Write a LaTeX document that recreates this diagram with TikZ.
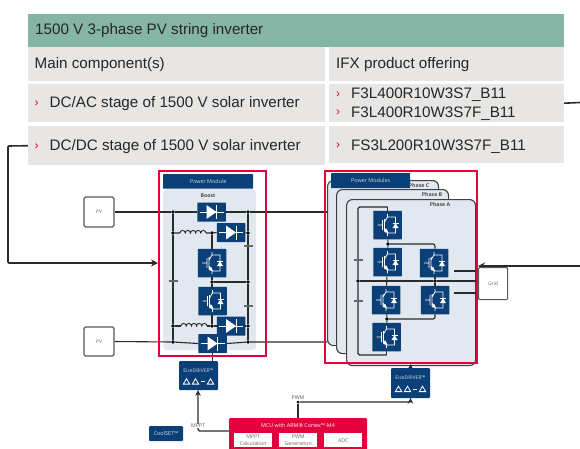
\documentclass[tikz,border=0pt]{standalone}
\usepackage{fontspec}
\setmainfont{Liberation Sans}
\newfontfamily\dfont{Open Sans}
\usetikzlibrary{arrows.meta}
\pgfdeclarelayer{panels}\pgfdeclarelayer{wires}
\pgfsetlayers{panels,wires,main}
\definecolor{hdrgreen}{HTML}{85B5A5}
\definecolor{cellgrey}{HTML}{E8E6E4}
\definecolor{ifxred}{HTML}{E4003C}
\definecolor{ifxblue}{HTML}{0B3F77}
\definecolor{panelblue}{HTML}{E1E8F0}
\definecolor{wirecol}{HTML}{2B2B2B}
\definecolor{pvgrey}{HTML}{6E6E6E}
\tikzset{
 cell/.style={fill=cellgrey,draw=none,inner sep=0pt},
 cellhdr/.style={fill=hdrgreen,draw=none,inner sep=0pt},
 ttext/.style={font=\fontsize{15.2}{18}\selectfont,text=black!85,anchor=west,inner sep=0pt},
 bullet/.style={font=\fontsize{12}{14}\selectfont,text=ifxred,anchor=west,inner sep=0pt},
 sw/.style={fill=ifxblue,draw=none,minimum width=28.5pt,minimum height=28.5pt,inner sep=0pt,rounded corners=.5pt},
 dio/.style={fill=ifxblue,draw=none,minimum width=28.5pt,minimum height=19pt,inner sep=0pt,rounded corners=.5pt},
 wire/.style={draw=wirecol,line width=1.1pt},
 heavy/.style={draw=wirecol,line width=1.6pt},
 joint/.style={circle,fill=black,inner sep=0pt,minimum size=3.6pt},
 redbox/.style={draw=ifxred,line width=2pt},
 panel/.style={fill=panelblue,draw=none,rounded corners=4pt},
 phasep/.style={fill=panelblue,draw=black!75,line width=1.1pt,rounded corners=6pt},
 hdrbox/.style={fill=ifxblue,text=white!80!ifxblue,font=\dfont\fontsize{5.4}{6}\selectfont,inner sep=0pt,rounded corners=.5pt},
 srcbox/.style={fill=white,draw=black!65,line width=1.1pt,rounded corners=1.5pt,font=\dfont\fontsize{5}{6}\selectfont,text=pvgrey,inner sep=0pt},
 lab/.style={font=\dfont\bfseries\fontsize{5.2}{6}\selectfont,text=black!70,inner sep=0pt},
 sig/.style={font=\dfont\fontsize{5.2}{6}\selectfont,text=black!65,inner sep=0pt},
 sub/.style={fill=white,draw=none,font=\dfont\fontsize{5.2}{7.4}\selectfont,text=black!60,align=center,inner sep=0pt},
 pics/igbtg/.style={code={
  \draw[white,line width=.8pt] (-10,0)--(-5,0) (-5,-5)--(-5,5) (-3,-6)--(-3,6)
    (0,-11)--(0,-8)--(-3,-3) (-3,3)--(0,8)--(0,11) (0,-8)--(8,-8)--(8,8)--(0,8);
  \fill[white] (5,3)--(11,3)--(8,-2)--cycle;
  \draw[white,line width=.8pt] (5,-2)--(11,-2);
  \fill[white] (1,8)--(-3.5,7)--(-1,3.5)--cycle;
 }},
 pics/diodeg/.style={code={
  \draw[white,line width=.8pt] (-12,0)--(12,0) (5,-7)--(5,7);
  \fill[white] (-5,-7)--(-5,7)--(5,0)--cycle;
 }},
 pics/coilg/.style={code={
  \draw[wirecol,line width=.9pt] (0,0) arc (180:360:2.6) arc (180:360:2.6) arc (180:360:2.6) arc (180:360:2.6) arc (180:360:2.6);
 }},
 pics/capg/.style={code={
  \draw[black!60,line width=1pt] (-4.5,-.9)--(4.5,-.9) (-4.5,.9)--(4.5,.9);
 }},
 pics/trig/.style={code={
  \draw[white,line width=.8pt,line join=miter] (-3.2,2.6)--(3.2,2.6)--(0,-2.8)--cycle;
 }},
 pics/drvg/.style={code={
  \node[font=\dfont\fontsize{5}{6}\selectfont,text=white!80!ifxblue,inner sep=0pt] at (0,-5) {EiceDRIVER™};
  \pic at (-12,6) {trig}; \pic at (-3,6) {trig}; \pic at (12,6) {trig};
  \draw[white,line width=.6pt] (2.5,6)--(6,6);
 }}
}
\begin{document}
\begin{tikzpicture}[x=1pt,y=-1pt]
\useasboundingbox (0,0) rectangle (580,448);
\clip (0,0) rectangle (580,448);
% table
\node[cellhdr,minimum width=535.5pt,minimum height=33pt,anchor=north west] (title) at (28,13.5) {};
\node[ttext] at (35,31) {1500 V 3-phase PV string inverter};
\node[cell,minimum width=297pt,minimum height=34pt,anchor=north west] (hl) at (28,47) {};
\node[cell,minimum width=234.5pt,minimum height=34pt,anchor=north west] (hr) at (329,47) {};
\node[ttext] at (34.5,65) {Main component(s)};
\node[ttext] at (336,65) {IFX product offering};
\node[cell,minimum width=297pt,minimum height=38pt,anchor=north west] (acl) at (28,84) {};
\node[cell,minimum width=234.5pt,minimum height=38pt,anchor=north west] (acr) at (329,84) {};
\node[cell,minimum width=297pt,minimum height=39pt,anchor=north west] (dcl) at (28,126) {};
\node[cell,minimum width=234.5pt,minimum height=37pt,anchor=north west] (dcr) at (329,126) {};
\node[bullet] at (34.5,103.5) {›};
\node[ttext] at (49.5,104) {DC/AC stage of 1500 V solar inverter};
\node[bullet] at (34.5,146.5) {›};
\node[ttext] at (49.5,147) {DC/DC stage of 1500 V solar inverter};
\node[bullet] at (336,94.5) {›};
\node[ttext] at (351,95) {F3L400R10W3S7\_B11};
\node[bullet] at (336,113) {›};
\node[ttext] at (351,113.5) {F3L400R10W3S7F\_B11};
\node[bullet] at (336,146) {›};
\node[ttext] at (351,146.5) {FS3L200R10W3S7F\_B11};

% left module
\begin{pgfonlayer}{panels}
\node[panel,minimum width=93pt,minimum height=161pt,anchor=north west] (lpanel) at (163,189) {};
\node[phasep,minimum width=111pt,minimum height=165pt,anchor=north west] (phc) at (327,180) {};
\node[phasep,minimum width=112pt,minimum height=164pt,anchor=north west] (phb) at (336,189) {};
\node[phasep,minimum width=129pt,minimum height=166pt,anchor=north west] (pha) at (346,199) {};
\end{pgfonlayer}
\node[hdrbox,minimum width=90pt,minimum height=14.5pt,anchor=north west] (lhdr) at (163,174) {Power Module};
\node[lab] (boost) at (208,196) {Boost};
\node[srcbox,minimum width=30pt,minimum height=30pt] (pv1) at (99,212) {PV};
\node[srcbox,minimum width=30pt,minimum height=29pt] (pv2) at (99,341.5) {PV};
\node[dio] (d1) at (211.5,212) {}; \pic at (d1) {diodeg};
\node[dio] (d2) at (231,232.5) {}; \pic at (d2) {diodeg};
\node[sw] (q1) at (212,263) {}; \pic at (q1) {igbtg};
\node[sw] (q2) at (212.5,301) {}; \pic at (q2) {igbtg};
\node[dio] (d3) at (231,326) {}; \pic at (d3) {diodeg};
\node[dio] (d4) at (212.5,343.5) {}; \pic at (d4) {diodeg};

\node[joint] (j1) at (173,212) {};
\node[joint] (j2) at (173,233) {};
\node[joint] (j3) at (173,326) {};
\node[joint] (j4) at (173,342) {};
\node[joint] (j5) at (212,233) {};
\node[joint] (j6) at (248,233) {};
\node[joint] (j7) at (212,282) {};
\node[joint] (j8) at (248,282) {};
\node[joint] (j9) at (212,326) {};
\node[joint] (j10) at (248,326) {};
\node[joint] (j11) at (248,212) {};
\node[joint] (j12) at (248,342) {};
\coordinate (ci1) at (180,233);
\coordinate (ci2) at (206,233);
\coordinate (ci3) at (181,326);
\coordinate (ci4) at (207,326);
\pic at (ci1) {coilg};
\pic at (ci3) {coilg};
\pic at (173,281) {capg};
\pic at (248,246) {capg};
\pic at (248,306) {capg};

% right module
\node[hdrbox,minimum width=79pt,minimum height=15pt,anchor=north west] (rhdr) at (331,173) {Power Modules};
\node[lab,anchor=center] (lc) at (419,185.5) {Phase C};
\node[lab] (lb) at (432,194.5) {Phase B};
\node[lab] (la) at (440,205) {Phase A};
\node[sw] (a1) at (387.5,225) {}; \pic at (a1) {igbtg};
\node[sw] (a2) at (387.5,262) {}; \pic at (a2) {igbtg};
\node[sw] (a3) at (386,300) {}; \pic at (a3) {igbtg};
\node[sw] (a4) at (386.5,337) {}; \pic at (a4) {igbtg};
\node[sw] (b1) at (434,263) {}; \pic at (b1) {igbtg};
\node[sw] (b2) at (435,300) {}; \pic at (b2) {igbtg};
\node[joint] (k1) at (388,244) {};
\node[joint] (k2) at (387,319) {};
\node[joint] (k3) at (358,281) {};
\node[joint] (k4) at (435,281) {};
\coordinate (rt) at (358,207);
\coordinate (rb) at (358,355);
\coordinate (g1) at (454,271);
\coordinate (g2) at (454,293);
\pic at (358,260) {capg};
\pic at (358,301) {capg};
\node[srcbox,minimum width=29pt,minimum height=32pt,rounded corners=1pt,anchor=north west] (grid) at (478,267) {Grid};
\node[redbox,minimum width=107pt,minimum height=185pt,anchor=north west,inner sep=0pt] (redl) at (158,170) {};
\node[redbox,minimum width=152pt,minimum height=192pt,anchor=north west,inner sep=0pt] (redr) at (324,170) {};

% bottom
\node[fill=ifxblue,minimum width=39pt,minimum height=29pt,inner sep=0pt,rounded corners=1pt] (drvl) at (198.5,375.5) {};
\pic at (drvl) {drvg};
\node[fill=ifxblue,minimum width=39pt,minimum height=30pt,inner sep=0pt,rounded corners=1pt] (drvr) at (410.5,383) {};
\pic at (drvr) {drvg};
\node[fill=ifxblue,text=white!85!ifxblue,font=\dfont\fontsize{5.4}{6}\selectfont,minimum width=34pt,minimum height=15pt,inner sep=0pt,rounded corners=1pt] (cool) at (166,433.5) {CoolSET™};
\node[fill=ifxred,minimum width=138pt,minimum height=50pt,anchor=north west,inner sep=0pt,rounded corners=1pt] (mcu) at (229,418) {};
\node[font=\dfont\fontsize{5.4}{6}\selectfont,text=white,inner sep=0pt] at (298,425) {MCU with ARM® Cortex™-M4};
\node[sub,minimum width=38pt,minimum height=14pt,anchor=north west] (s1) at (234,433) {MPPT\\Calculation};
\node[sub,minimum width=38pt,minimum height=14pt,anchor=north west] (s2) at (279,433) {PWM\\Generation};
\node[sub,minimum width=38pt,minimum height=14pt,anchor=north west] (s3) at (324,433) {ADC};
\node[sig,fill=white,inner sep=.5pt] (lmppt) at (198,426) {MPPT};
\node[sig] (lpwm) at (298,398) {PWM};
\node[joint,minimum size=3pt] (jp) at (298,402) {};

% outer links
\coordinate (e1) at (8,146);
\coordinate (e2) at (8,263);
\coordinate (e3) at (580,102.5);
\coordinate (e4) at (580,266);

\begin{pgfonlayer}{wires}
\draw[wire] (pv1.east) -- (j1) -- (d1.west);
\draw[wire] (d1.east) -- (j11) -- (phc.west |- j11);
\draw[wire] (pv2.east) -- (j4) -- (d4.west);
\draw[wire] (d4.east) -- (j12) -- (phc.west |- j12);
\draw[wire] (j1) -- (j2) -- (j3) -- (j4);
\draw[wire] (j11) -- (j6) -- (j8) -- (j10) -- (j12);
\draw[wire] (j2) -- (ci1) (ci2) -- (j5) -- (d2.west);
\draw[wire] (j3) -- (ci3) (ci4) -- (j9) -- (d3.west);
\draw[wire] (d2.east) -- (j6);
\draw[wire] (d3.east) -- (j10);
\draw[wire] (j5) -- (j7) -- (j9);
\draw[wire] (j7) -- (j8);
\draw[wire,rounded corners=1.5pt] (rt -| a1) -- (rt) -- (k3) -- (rb) -- (rb -| a4);
\draw[wire] (rt -| a1) -- (a1.north);
\draw[wire] (rb -| a4) -- (a4.south);
\draw[wire] (a1) -- (k1) -- (a2);
\draw[wire] (a3) -- (k2) -- (a4);
\draw[wire] (a2) -- (a3);
\draw[wire,rounded corners=2pt] (k1) -- (k1 -| b2) -- (b1.north -| b2);
\draw[wire,rounded corners=2pt] (k2) -- (k2 -| b2) -- (b2);
\draw[wire] (k4) -- (b2);
\draw[wire] (k4) -- (b1.south -| k4);
\draw[wire] (k3) -- (k4) -- (grid.west |- k4);
\draw[wire] (g1) -- (g1 -| grid.west);
\draw[wire] (g2) -- (g2 -| grid.west);
\draw[wire] (d4.south) -- (drvl.north -| d4.south);
\draw[wire,-{Stealth[length=5.5pt,width=5.5pt]},rounded corners=1.5pt] (mcu.west |- 0,431) -- (lmppt.center |- 0,431) -- (lmppt.center |- drvl.south);
\draw[wire,-{Stealth[length=5.5pt,width=5.5pt]},rounded corners=2pt] (jp) -- (drvr.south |- jp) -- (drvr.south);
\draw[wire,-{Stealth[length=5.5pt,width=5.5pt]}] (drvr.north) -- (redr.south -| drvr.north);
\draw[wire] (jp) -- (mcu.north -| jp);
\draw[heavy,-{Stealth[length=7pt,width=7pt]},rounded corners=1pt] (dcl.west) -- (e1) -- (e2) -- (redl.west |- e2);
\draw[heavy] (acr.east) -- (e3);
\draw[heavy,-{Stealth[length=7pt,width=7pt]}] (e4) -- (e4 -| grid.west);
\end{pgfonlayer}
\end{tikzpicture}
\end{document}
